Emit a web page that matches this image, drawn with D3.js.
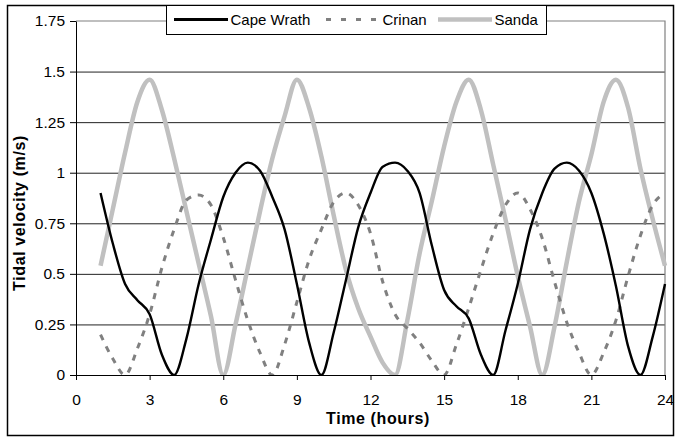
<!DOCTYPE html>
<html>
<head>
<meta charset="utf-8">
<script src="https://cdn.jsdelivr.net/npm/d3@7"></script>
<style>
  body { margin: 0; background: #fff; }
  svg { display: block; font-family: "Liberation Sans", Arial, sans-serif; }
  .grid line { stroke: #222; stroke-width: 1; }
  .grid path { display: none; }
  .axis text { font-size: 15.5px; fill: #000; }
  .axis path, .axis line { stroke: #000; }
</style>
</head>
<body>
<svg id="chart" width="681" height="437"></svg>
<script>
// time in hours, every half hour from 1 to 24
const hours = d3.range(1, 24.01, 0.5);

const capeWrath = [0.90, 0.65, 0.45, 0.37, 0.30, 0.10, 0.00, 0.18, 0.45, 0.67,
  0.88, 1.00, 1.05, 1.01, 0.88, 0.72, 0.45, 0.16, 0.00, 0.21,
  0.47, 0.73, 0.90, 1.03, 1.05, 1.01, 0.90, 0.64, 0.42, 0.34,
  0.28, 0.10, 0.00, 0.22, 0.45, 0.72, 0.90, 1.02, 1.05, 1.01,
  0.90, 0.70, 0.44, 0.14, 0.00, 0.19, 0.45];

const crinan = [0.20, 0.08, 0.00, 0.13, 0.30, 0.53, 0.72, 0.865, 0.89, 0.84,
  0.68, 0.47, 0.27, 0.11, 0.00, 0.15, 0.36, 0.57, 0.72, 0.855,
  0.90, 0.84, 0.70, 0.46, 0.30, 0.23, 0.16, 0.07, 0.00, 0.15,
  0.33, 0.52, 0.70, 0.84, 0.90, 0.82, 0.675, 0.46, 0.26, 0.11,
  0.00, 0.11, 0.27, 0.49, 0.69, 0.84, 0.90];

const sanda = [0.54, 0.82, 1.10, 1.35, 1.46, 1.31, 1.07, 0.81, 0.55, 0.29,
  0.00, 0.25, 0.53, 0.81, 1.07, 1.28, 1.46, 1.32, 1.08, 0.79,
  0.52, 0.33, 0.19, 0.06, 0.00, 0.27, 0.60, 0.86, 1.13, 1.35,
  1.46, 1.31, 1.04, 0.77, 0.49, 0.24, 0.00, 0.24, 0.56, 0.86,
  1.09, 1.35, 1.46, 1.32, 1.02, 0.77, 0.54];

const seriesNames = ['Cape Wrath', 'Crinan', 'Sanda'];
const xTicks = [0, 3, 6, 9, 12, 15, 18, 21, 24];
const yTicks = [0, 0.25, 0.5, 0.75, 1, 1.25, 1.5, 1.75];

const svg = d3.select('#chart');
const plotLeft = 76, plotRight = 665, plotTop = 21, plotBottom = 375;

// outer chart border
svg.append('rect')
  .attr('x', 7.5).attr('y', 5.5)
  .attr('width', 666).attr('height', 430)
  .attr('fill', '#fff')
  .attr('stroke', '#000')
  .attr('stroke-width', 1.5);

const x = d3.scaleLinear().domain([0, 24]).range([plotLeft, plotRight]);
const y = d3.scaleLinear().domain([0, 1.75]).range([plotBottom, plotTop]);

// horizontal grid lines
svg.append('g')
  .attr('class', 'grid')
  .attr('transform', `translate(${plotLeft},0)`)
  .call(d3.axisLeft(y)
    .tickValues(yTicks.filter(d => d > 0 && d < 1.75))
    .tickSize(-(plotRight - plotLeft))
    .tickFormat(''));

// plot area border (top / right), grey like the original
svg.append('path')
  .attr('d', `M${plotLeft},${y(1.75)}H${plotRight}V${plotBottom}`)
  .attr('fill', 'none')
  .attr('stroke', '#808080')
  .attr('stroke-width', 1.2);

// axes
svg.append('g')
  .attr('class', 'axis')
  .attr('transform', `translate(0,${plotBottom})`)
  .call(d3.axisBottom(x)
    .tickValues(xTicks)
    .tickSize(5)
    .tickSizeOuter(0)
    .tickPadding(14)
    .tickFormat(d3.format('d')));

svg.append('g')
  .attr('class', 'axis')
  .attr('transform', `translate(${plotLeft},0)`)
  .call(d3.axisLeft(y)
    .tickValues(yTicks)
    .tickSize(6)
    .tickSizeOuter(0)
    .tickPadding(5)
    .tickFormat(d => d));

// axis titles
svg.append('text')
  .attr('x', 378).attr('y', 424)
  .attr('text-anchor', 'middle')
  .attr('font-weight', 'bold')
  .attr('font-size', '16px')
  .attr('letter-spacing', '0.6px')
  .text('Time (hours)');

svg.append('text')
  .attr('transform', 'translate(25,213) rotate(-90)')
  .attr('text-anchor', 'middle')
  .attr('font-weight', 'bold')
  .attr('font-size', '16px')
  .attr('letter-spacing', '0.6px')
  .text('Tidal velocity (m/s)');

// series
const styles = [
  { color: '#000', width: 2.4, dash: null },
  { color: '#808080', width: 3, dash: '6,7' },
  { color: '#c0c0c0', width: 4.5, dash: null }
];
const allSeries = [capeWrath, crinan, sanda];

svg.append('clipPath').attr('id', 'plotclip')
  .append('rect')
  .attr('x', plotLeft).attr('y', plotTop - 4)
  .attr('width', plotRight - plotLeft + 3).attr('height', plotBottom - plotTop + 4);

const line = d3.line()
  .x((d, i) => x(hours[i]))
  .y(d => y(d))
  .curve(d3.curveMonotoneX);

const lines = svg.append('g').attr('clip-path', 'url(#plotclip)');
// draw Sanda first, then Crinan, then Cape Wrath on top
[2, 1, 0].forEach(k => {
  lines.append('path')
    .datum(allSeries[k])
    .attr('d', line)
    .attr('fill', 'none')
    .attr('stroke', styles[k].color)
    .attr('stroke-width', styles[k].width)
    .attr('stroke-dasharray', styles[k].dash)
    .attr('stroke-linejoin', 'round');
});

// legend
const legend = svg.append('g');
legend.append('rect')
  .attr('x', 166.5).attr('y', 5.5)
  .attr('width', 380).attr('height', 29)
  .attr('fill', '#fff')
  .attr('stroke', '#000')
  .attr('stroke-width', 1);

const legendX = [174, 326, 438];
seriesNames.forEach((name, k) => {
  const g = legend.append('g').attr('transform', `translate(${legendX[k]},0)`);
  g.append('line')
    .attr('x1', 0).attr('x2', 54)
    .attr('y1', 19.5).attr('y2', 19.5)
    .attr('stroke', styles[k].color)
    .attr('stroke-width', k === 2 ? 4.5 : 3)
    .attr('stroke-dasharray', k === 1 ? '5,10' : null);
  g.append('text')
    .attr('x', 56.5).attr('y', 25)
    .attr('font-size', '15px')
    .text(name);
});
</script>
</body>
</html>
